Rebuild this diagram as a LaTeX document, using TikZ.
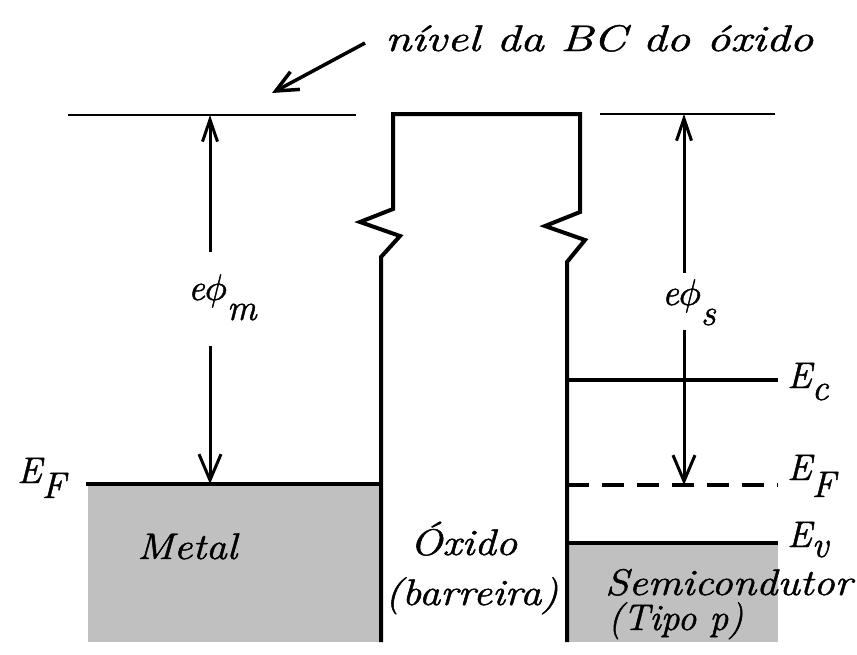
\documentclass[tikz,border=0pt]{standalone}
\usepackage{fontspec}
\usepackage{graphicx}
\setmainfont{Latin Modern Roman}[ItalicFeatures={FakeBold=1.2}]
\newfontfamily\lmmath{latinmodern-math.otf}[FakeBold=1.2]
\usetikzlibrary{arrows.meta}
\definecolor{gfill}{RGB}{192,192,192}
\newcommand{\lbf}{\fontsize{37}{44}\selectfont\itshape}
\newcommand{\fitw}[2]{\resizebox{#1}{\height}{#2}}
\newcommand{\phisym}{{\lmmath 𝜙}}
\begin{document}
\begin{tikzpicture}[x=1pt,y=-1pt,
  vac/.style={line width=1.5pt},
  band/.style={line width=3.5pt},
  oxl/.style={line width=4pt, line join=miter},
  lbl/.style={inner sep=0pt, anchor=base west, font=\lbf},
  arr/.style={line width=3pt},
  tophead/.tip={Straight Barb[length=22pt,width=15pt]},
  bothead/.tip={Straight Barb[length=26pt,width=22pt]},
  callout/.tip={Straight Barb[length=22pt,width=20pt]},
]
\useasboundingbox (0,0) rectangle (857,654);

% gray filled regions
\fill[gfill] (88,484) rectangle (381,642);
\fill[gfill] (567,543) rectangle (778,642);

% vacuum / oxide CB levels
\coordinate (vl1) at (68,115);
\coordinate (vl2) at (356,115);
\coordinate (vr1) at (600,114);
\coordinate (vr2) at (775,114);
\draw[vac] (vl1) -- (vl2);
\draw[vac] (vr1) -- (vr2);

% oxide barrier outline with breaks
\coordinate (oxLb) at (381,642);
\coordinate (oxRb) at (567,642);
\draw[oxl] (oxLb) -- (381,257) -- (400,236) -- (360,222) -- (393,209) -- (393,114)
  -- (580,114) -- (580,212) -- (545,226) -- (585,240) -- (567,262) -- (oxRb);

% metal Fermi level
\coordinate (efm1) at (86,484);
\coordinate (efm2) at (381,484);
\draw[band] (efm1) -- (efm2);

% semiconductor levels
\coordinate (ec1) at (567,380);
\coordinate (ec2) at (778,380);
\coordinate (efs1) at (567,485);
\coordinate (efs2) at (778,485);
\coordinate (ev1) at (567,543);
\coordinate (ev2) at (778,543);
\draw[band] (ec1) -- (ec2);
\draw[band, dash pattern=on 22pt off 13pt] (efs1) -- (efs2);
\draw[band] (ev1) -- (ev2);

% work function arrows
\coordinate (mA) at (210,115);
\coordinate (mB) at (210,252);
\coordinate (mC) at (210,346);
\coordinate (mD) at (210,484);
\draw[arr, tophead-] (mA) -- (mB);
\draw[arr, -bothead] (mC) -- (mD);
\coordinate (sA) at (684,114);
\coordinate (sB) at (684,273);
\coordinate (sC) at (684,330);
\coordinate (sD) at (684,485);
\draw[arr, tophead-] (sA) -- (sB);
\draw[arr, -bothead] (sC) -- (sD);

% callout arrow
\coordinate (cA) at (365,43);
\coordinate (cB) at (272,93);
\draw[arr, line width=3.5pt, -callout] (cA) -- (cB);

% labels
\node[lbl] (title) at (385,51) {\fitw{428pt}{nível da BC do óxido}};
\node[lbl] (metal) at (137,559) {\fitw{100pt}{Metal}};
\node[lbl] (oxido) at (410,555) {\fitw{107pt}{Óxido}};
\node[lbl] (barr) at (385,605) {\fitw{173pt}{(barreira)}};
\node[lbl] (semi) at (605,595) {\fitw{247pt}{Semicondutor}};
\node[lbl] (tipo) at (608,630) {\fitw{135pt}{(Tipo p)}};
\node[lbl] (efL) at (17,483) {E\raisebox{-15pt}{F}};
\node[lbl] (ecR) at (787,388) {E\raisebox{-12pt}{c}};
\node[lbl] (efR) at (787,480) {E\raisebox{-17pt}{F}};
\node[lbl] (evR) at (787,547) {E\raisebox{-10pt}{v}};
\node[lbl] (phim) at (188,300) {e\phisym\raisebox{-20pt}{m}};
\node[lbl] (phis) at (662,305) {e\phisym\raisebox{-20pt}{s}};
\end{tikzpicture}
\end{document}
